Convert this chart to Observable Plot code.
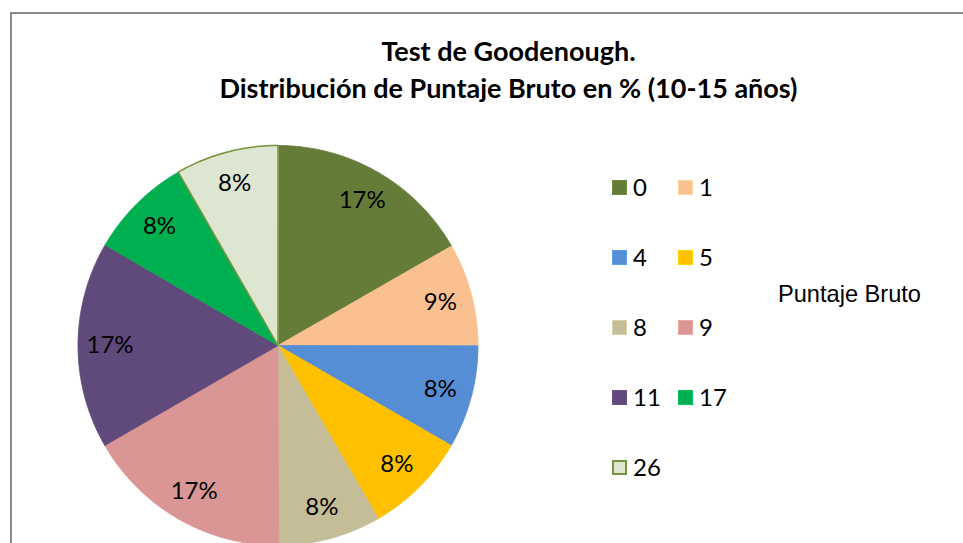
<!DOCTYPE html>
<html>
<head>
<meta charset="utf-8">
<script src="https://cdn.jsdelivr.net/npm/d3@7"></script>
<script src="https://cdn.jsdelivr.net/npm/@observablehq/plot@0.6"></script>
<style>
  html, body { margin: 0; padding: 0; background: #fff; overflow: hidden; }
  #wrap { position: relative; width: 963px; height: 543px; overflow: hidden; font-family: Lato, "Open Sans", sans-serif; color: #000; }
  #frame { position: absolute; left: 10px; top: 12px; width: 1000px; height: 600px; border: 2px solid #8c8c8c; box-sizing: border-box; }
  #title { position: absolute; left: 0; top: 32px; width: 1017px; text-align: center; font-weight: bold; font-size: 27px; line-height: 37px; }
  #chart { position: absolute; left: 0; top: 0; }
  .lg { position: absolute; font-size: 24px; line-height: 24px; white-space: nowrap; }
  .sw { position: absolute; width: 15px; height: 15px; box-sizing: border-box; }
  #ptitle { position: absolute; left: 778px; top: 281px; font-family: "Liberation Sans", Arial, sans-serif; font-size: 23.6px; line-height: 26px; white-space: nowrap; }
</style>
</head>
<body>
<div id="wrap">
  <div id="frame"></div>
  <div id="chart"></div>
  <div id="title">Test de Goodenough.<br>Distribución de Puntaje Bruto en % (10-15 años)</div>
  <div id="legend"></div>
  <div id="ptitle">Puntaje Bruto</div>
</div>
<script>
// ---- data ----
const categories = ["0", "1", "4", "5", "8", "9", "11", "17", "26"];
const shares = [16.7, 8.3, 8.3, 8.3, 8.3, 16.7, 16.7, 8.3, 8.3];
const labels = ["17%", "9%", "8%", "8%", "8%", "17%", "17%", "8%", "8%"];
const colors = ["#657C38", "#FAC090", "#558ED5", "#FFC000", "#C4BD97", "#D99694", "#604A7B", "#00B050", "#DDE6D0"];
const legendTitle = "Puntaje Bruto";

// ---- geometry from data ----
const arcs = d3.pie().sort(null).value(d => d.v)(categories.map((k, i) => ({k, v: shares[i], label: labels[i]})));
const pts = [];
arcs.forEach(a => {
  const key = a.data.k;
  pts.push({key, x: 0, y: 0});
  const n = Math.max(2, Math.ceil((a.endAngle - a.startAngle) / (Math.PI / 180)));
  for (let j = 0; j <= n; j++) {
    const t = a.startAngle + (a.endAngle - a.startAngle) * j / n;
    pts.push({key, x: Math.sin(t), y: Math.cos(t)});
  }
});
const lab = arcs.map(a => {
  const m = (a.startAngle + a.endAngle) / 2;
  return {text: a.data.label, x: 0.84 * Math.sin(m), y: 0.84 * Math.cos(m)};
});

const cx = 277.5, cy = 345, r = 200;
const chart = Plot.plot({
  width: 963,
  height: 543,
  margin: 0,
  style: {fontFamily: "Lato, sans-serif", background: "transparent"},
  x: {domain: [-1, 1], range: [cx - r, cx + r], axis: null},
  y: {domain: [-1, 1], range: [cy + r, cy - r], axis: null},
  color: {type: "ordinal", domain: categories, range: colors},
  marks: [
    Plot.line(pts, {x: "x", y: "y", z: "key", fill: "key", stroke: "key", strokeWidth: 0.8, curve: "linear-closed"}),
    Plot.line(pts.filter(d => d.key === "26"), {x: "x", y: "y", stroke: "#77933C", strokeWidth: 1.5, curve: "linear-closed"}),
    Plot.text(lab, {x: "x", y: "y", text: "text", fontSize: 24, fill: "#000"})
  ]
});
document.getElementById("chart").appendChild(chart);

// ---- legend ----
const lg = document.getElementById("legend");
categories.forEach((k, i) => {
  const col = i % 2, row = Math.floor(i / 2);
  const x0 = 612 + col * 66, y0 = 180 + row * 70;
  const sw = document.createElement("div");
  sw.className = "sw";
  sw.style.left = x0 + "px";
  sw.style.top = y0 + "px";
  sw.style.background = colors[i];
  sw.style.border = k === "26" ? "2px solid #77933C" : "1px solid " + d3.color(colors[i]).brighter(0.3);
  lg.appendChild(sw);
  const t = document.createElement("div");
  t.className = "lg";
  t.style.left = (x0 + 21) + "px";
  t.style.top = (y0 - 5) + "px";
  t.textContent = k;
  lg.appendChild(t);
});
document.getElementById("ptitle").textContent = legendTitle;
</script>
</body>
</html>
